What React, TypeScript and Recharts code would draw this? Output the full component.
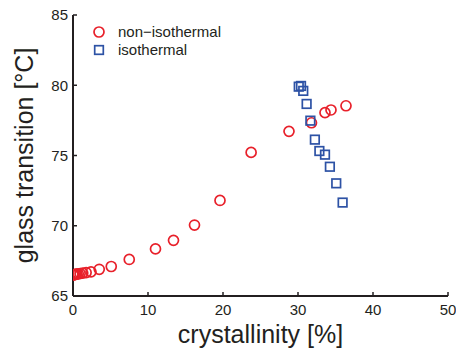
import React from "react";
import {
  ScatterChart,
  Scatter,
  XAxis,
  YAxis,
  Legend,
} from "recharts";

// crystallinity [%] vs glass transition [°C]
const nonIsoCrystallinity = [
  0.0, 0.1, 0.2, 0.35, 0.5, 0.7, 0.95, 1.3, 1.75, 2.4, 3.5, 5.1, 7.5, 11.0,
  13.4, 16.2, 19.6, 23.75, 28.8, 31.8, 33.6, 34.4, 36.4,
];
const nonIsoTg = [
  66.5, 66.5, 66.52, 66.54, 66.55, 66.58, 66.6, 66.63, 66.67, 66.72, 66.9,
  67.1, 67.6, 68.35, 68.96, 70.05, 71.8, 75.22, 76.72, 77.33, 78.05, 78.24,
  78.54,
];

const isoCrystallinity = [
  30.1, 30.4, 30.7, 31.15, 31.65, 32.25, 32.85, 33.6, 34.25, 35.1, 35.95,
];
const isoTg = [
  79.9, 79.95, 79.6, 78.67, 77.48, 76.13, 75.32, 75.06, 74.2, 73.02, 71.65,
];

const xTicks = [0, 10, 20, 30, 40, 50];
const yTicks = [65, 70, 75, 80, 85];

const nonIsoData = nonIsoCrystallinity.map((x, i) => ({ x, y: nonIsoTg[i] }));
const isoData = isoCrystallinity.map((x, i) => ({ x, y: isoTg[i] }));

const FONT = "'Liberation Sans', Arial, Helvetica, sans-serif";
const INK = "#231f20";
const RED = "#e8202a";
const BLUE = "#2d52a5";

const lineStyle = { stroke: INK, strokeWidth: 2 };
const tickLineStyle = { stroke: INK, strokeWidth: 1.5 };
const tickStyle = { fontSize: 15, fill: INK, fontFamily: FONT };

const CircleMark = (props: any) => (
  <circle
    cx={props.cx}
    cy={props.cy}
    r={5}
    fill="none"
    stroke={RED}
    strokeWidth={1.7}
  />
);

const SquareMark = (props: any) => (
  <rect
    x={props.cx - 4.3}
    y={props.cy - 4.3}
    width={8.6}
    height={8.6}
    fill="none"
    stroke={BLUE}
    strokeWidth={1.7}
  />
);

const YTitle = (props: any) => {
  const vb = props.viewBox || { x: 0, y: 15, width: 73, height: 281 };
  const cx = 33;
  const cy = vb.y + vb.height / 2;
  return (
    <text
      x={cx}
      y={cy}
      transform={`rotate(-90, ${cx}, ${cy})`}
      textAnchor="middle"
      fontSize={25}
      fill={INK}
      fontFamily={FONT}
    >
      glass transition [°C]
    </text>
  );
};

const XTitle = (props: any) => {
  const vb = props.viewBox || { x: 73, y: 296, width: 375, height: 53 };
  return (
    <text
      x={vb.x + vb.width / 2}
      y={343}
      textAnchor="middle"
      fontSize={25}
      fill={INK}
      fontFamily={FONT}
    >
      crystallinity [%]
    </text>
  );
};

const legendItems = [
  { name: "non\u2212isothermal", kind: "circle" },
  { name: "isothermal", kind: "square" },
];

const LegendBox = () => (
  <div style={{ fontFamily: FONT, fontSize: 15, color: INK }}>
    {legendItems.map((item) => (
      <div
        key={item.name}
        style={{ display: "flex", alignItems: "center", height: 18 }}
      >
        <svg width={14} height={14} style={{ display: "block" }}>
          {item.kind === "circle" ? (
            <circle cx={7} cy={7} r={5} fill="none" stroke={RED} strokeWidth={1.7} />
          ) : (
            <rect x={2.7} y={2.7} width={8.6} height={8.6} fill="none" stroke={BLUE} strokeWidth={1.7} />
          )}
        </svg>
        <span style={{ marginLeft: 12, lineHeight: "18px" }}>{item.name}</span>
      </div>
    ))}
  </div>
);

export default function App() {
  return (
    <div style={{ position: "absolute", left: 0, top: 0, background: "#fff" }}>
      <ScatterChart
        width={456}
        height={349}
        margin={{ top: 15, right: 8, bottom: 0, left: 0 }}
      >
        <XAxis
          xAxisId="bottom"
          dataKey="x"
          type="number"
          domain={[0, 50]}
          ticks={xTicks}
          allowDataOverflow
          height={53}
          tickSize={-4}
          tickMargin={12}
          axisLine={lineStyle}
          tickLine={tickLineStyle}
          tick={tickStyle}
          label={<XTitle />}
        />
        <XAxis
          xAxisId="top"
          orientation="top"
          type="number"
          domain={[0, 50]}
          ticks={xTicks}
          allowDataOverflow
          height={0}
          tickSize={-4}
          axisLine={lineStyle}
          tickLine={tickLineStyle}
          tick={false}
        />
        <YAxis
          yAxisId="left"
          dataKey="y"
          type="number"
          domain={[65, 85]}
          ticks={yTicks}
          allowDataOverflow
          width={73}
          tickSize={-4}
          tickMargin={9}
          axisLine={lineStyle}
          tickLine={tickLineStyle}
          tick={tickStyle}
          label={<YTitle />}
        />
        <YAxis
          yAxisId="right"
          orientation="right"
          type="number"
          domain={[65, 85]}
          ticks={yTicks}
          allowDataOverflow
          width={0}
          tickSize={-4}
          axisLine={lineStyle}
          tickLine={tickLineStyle}
          tick={false}
        />
        <Legend
          verticalAlign="middle"
          align="center"
          layout="vertical"
          content={<LegendBox />}
          wrapperStyle={{ position: "absolute", left: 92, top: 23, width: "auto", height: "auto" }}
        />
        <Scatter
          name="non−isothermal"
          data={nonIsoData}
          xAxisId="bottom"
          yAxisId="left"
          shape={<CircleMark />}
          isAnimationActive={false}
        />
        <Scatter
          name="isothermal"
          data={isoData}
          xAxisId="bottom"
          yAxisId="left"
          shape={<SquareMark />}
          isAnimationActive={false}
        />
      </ScatterChart>
    </div>
  );
}
